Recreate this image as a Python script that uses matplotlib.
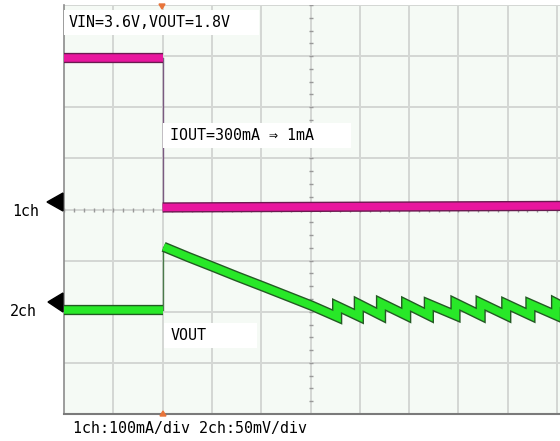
import matplotlib
matplotlib.use("Agg")
import matplotlib.pyplot as plt
from matplotlib.patches import Rectangle, Polygon
import matplotlib.patheffects as pe

# ---------------- data (screen divisions on x, channel units on y) ----------------
# 1ch : output current (mA), 100 mA/div
ch1_before_t = [0.0, 2.0]
ch1_before_mA = [296, 296]
ch1_after_t = [2.0, 10.06]
ch1_after_mA = [4, 7]

# 2ch : VOUT deviation (mV), 50 mV/div
ch2_before_t = [0.0, 2.0]
ch2_before_mV = [0, 0]
ch2_decay_t = [2.02, 2.52, 3.02, 3.51, 4.02, 4.52, 5.02, 5.54]
ch2_decay_mV = [62, 52, 42.5, 33, 23.5, 14, 4.5, -6.5]
tooth_start_t = [5.54, 5.98, 6.43, 6.94, 7.40, 7.94, 8.45, 8.97, 9.46, 9.98]
tooth_top_mV = [4, 6, 7, 6, 6, 7, 7, 6, 6, 7]
tooth_bottom_mV = [-6, -5, -5, -5, -5, -5, -5, -5, -5, 5]

ch1_scale = 100.0   # mA/div
ch2_scale = 50.0    # mV/div
ch1_offset = 0.0    # div
ch2_offset = -1.97  # div

W, H = 560, 441
fig = plt.figure(figsize=(W / 100, H / 100), dpi=100)
fig.patch.set_facecolor("white")

def fx(x):
    return x / W

def fy(y):
    return 1 - y / H

ax = fig.add_axes([fx(64), fy(414), (560 - 64) / W, (414 - 5) / H])
ax.set_facecolor("#f5faf5")
ax.set_xlim(0, 10.06)
ax.set_ylim(-4, 4)
ax.set_xticks([])
ax.set_yticks([])
for s in ["top", "right"]:
    ax.spines[s].set_visible(False)
ax.spines["left"].set_color("#8c8c8c")
ax.spines["left"].set_linewidth(1.2)
ax.spines["bottom"].set_color("#7a7a7a")
ax.spines["bottom"].set_linewidth(1.5)

grid_c = "#d4d7d4"
for gx in range(1, 11):
    ax.axvline(gx, color=grid_c, lw=1.4, zorder=1)
for gy in range(-3, 5):
    ax.axhline(gy, color=grid_c, lw=1.4, zorder=1)

# minor tick marks on the centre lines
yt = [-4 + 0.25 * i for i in range(33)]
ax.plot([5] * len(yt), yt, ls="none", marker="_", ms=3.5, mew=1.0, color="#999999", zorder=2)
xt = [0.2 * i for i in range(51)]
ax.plot(xt, [0] * len(xt), ls="none", marker="|", ms=3.0, mew=1.0, color="#999999", zorder=2)

# ---------------- traces ----------------
def to_div1(v):
    return [ch1_offset + a / ch1_scale for a in v]

def to_div2(v):
    return [ch2_offset + a / ch2_scale for a in v]

mag = "#e8169e"
mag_edge = "#6a1a50"
grn = "#28e828"
grn_edge = "#235a23"

def band(xs, ys, col, edge):
    ax.plot(xs, ys, color=col, lw=5.4, solid_capstyle="butt", solid_joinstyle="miter",
            path_effects=[pe.Stroke(linewidth=7.4, foreground=edge), pe.Normal()], zorder=5)

# 1ch
band(ch1_before_t, to_div1(ch1_before_mA), mag, mag_edge)
band(ch1_after_t, to_div1(ch1_after_mA), mag, mag_edge)
ax.plot([ch1_before_t[-1]] * 2, [to_div1(ch1_before_mA)[-1], to_div1(ch1_after_mA)[0]],
        color="#7a5a80", lw=1.0, zorder=4)

# 2ch
band(ch2_before_t, to_div2(ch2_before_mV), grn, grn_edge)
ax.plot([ch2_before_t[-1]] * 2, [to_div2(ch2_before_mV)[-1], to_div2(ch2_decay_mV)[0]],
        color="#4a7a4a", lw=1.0, zorder=4)
xs = list(ch2_decay_t)
ys = list(ch2_decay_mV)
ends = tooth_start_t[1:] + [ax.get_xlim()[1]]
for st, top, en, bot in zip(tooth_start_t, tooth_top_mV, ends, tooth_bottom_mV):
    xs += [st, en]
    ys += [top, bot]
band(xs, to_div2(ys), grn, grn_edge)

# trigger markers
fig.add_artist(Polygon([(fx(159), fy(4)), (fx(165), fy(4)), (fx(162), fy(9))],
                       closed=True, transform=fig.transFigure, color="#e8743a", zorder=6))
fig.add_artist(Polygon([(fx(160), fy(416)), (fx(166), fy(416)), (fx(163), fy(411))],
                       closed=True, transform=fig.transFigure, color="#e8743a", zorder=6))

# channel markers
fig.add_artist(Polygon([(fx(63), fy(193)), (fx(47), fy(202)), (fx(63), fy(211))],
                       closed=True, transform=fig.transFigure, color="black", zorder=6))
fig.add_artist(Polygon([(fx(63), fy(293)), (fx(48), fy(302)), (fx(63), fy(312))],
                       closed=True, transform=fig.transFigure, color="black", zorder=6))

font = dict(family="DejaVu Sans Mono", size=10.8, color="black")

# annotation boxes
def box(x0, y0, x1, y1):
    fig.add_artist(Rectangle((fx(x0), fy(y1)), (x1 - x0) / W, (y1 - y0) / H,
                             transform=fig.transFigure, facecolor="white",
                             edgecolor="none", zorder=7))

box(64, 10, 259, 35)
fig.text(fx(69), fy(22.5), "VIN=3.6V,VOUT=1.8V", ha="left", va="center", zorder=8, **font)
box(163, 123, 351, 148)
fig.text(fx(170), fy(135.5), "IOUT=300mA ⇒ 1mA", ha="left", va="center", zorder=8, **font)
box(164, 323, 257, 348)
fig.text(fx(171), fy(335.5), "VOUT", ha="left", va="center", zorder=8, **font)

fig.text(fx(12), fy(211), "1ch", ha="left", va="center", **font)
fig.text(fx(10), fy(311), "2ch", ha="left", va="center", **font)
fig.text(fx(73), fy(429), "1ch:100mA/div 2ch:50mV/div", ha="left", va="center", **font)

fig.savefig("out.png", dpi=100, facecolor="white")
